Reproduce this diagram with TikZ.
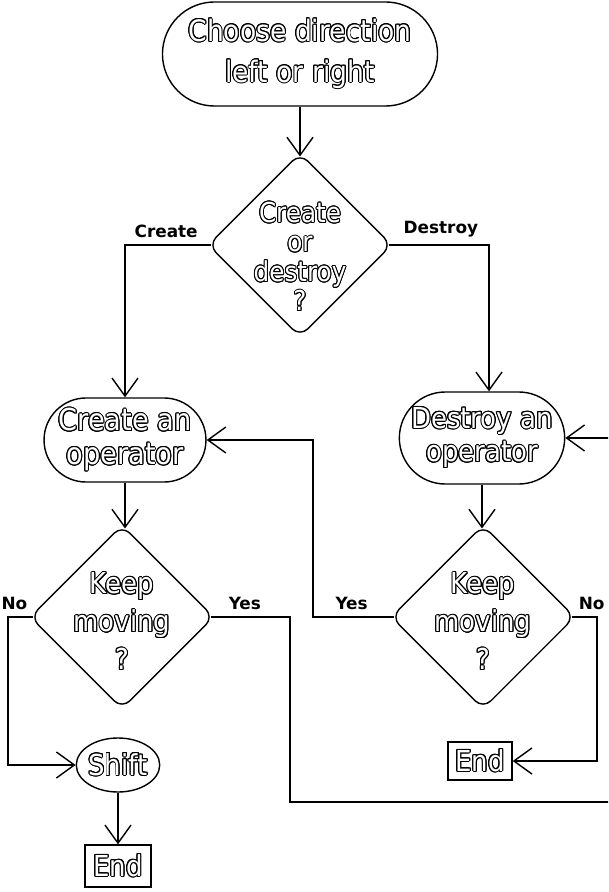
\documentclass[tikz,border=0pt]{standalone}
\usepackage{fontspec}
\setmainfont{DejaVu Sans}
\newfontfamily\nodefont{DejaVu Sans}[FakeStretch=0.9]
\usepackage{contour}
\contourlength{0.7pt}
\usetikzlibrary{arrows.meta,shapes.geometric,shapes.misc}
\newcommand{\hol}[1]{\contour{black}{\textcolor{white}{#1}}}

\begin{document}
\begin{tikzpicture}[x=0.025cm,y=-0.025cm,line width=1pt,
    >={Straight Barb[length=0.45cm,width=0.65cm]},
    txt/.style={font=\nodefont\fontsize{20.5}{27}\selectfont,align=center},
    term/.style={draw,rounded rectangle,inner sep=0pt,txt},
    decision/.style={draw,diamond,rounded corners=8pt,inner sep=0pt,minimum width=4.6cm,minimum height=4.6cm},
    oval/.style={draw,ellipse,inner sep=0pt,txt},
    stop/.style={draw,rectangle,inner sep=0pt,txt},
    lbl/.style={font=\fontsize{12}{14}\selectfont\bfseries,inner sep=2pt,yshift=3pt},
    intodia/.style={shorten >=-3pt},
    fromdia/.style={shorten <=-3pt}]

    \clip (0,0) rectangle (608,892);

    \node[term,minimum width=6.875cm,minimum height=2.6cm,font=\nodefont\fontsize{21}{29}\selectfont] (start) at (300,54) {\hol{Choose direction}\\\hol{left or right}};
    \node[decision,label={[txt,font=\nodefont\fontsize{19.5}{21}\selectfont,yshift=-0.3cm]center:{\hol{Create}\\\hol{or}\\\hol{destroy}\\\hol{?}}}] (dec1) at (300,245) {};
    \node[term,minimum width=3.95cm,minimum height=2.1cm,font=\nodefont\fontsize{21.5}{24}\selectfont] (create) at (125,440) {\hol{Create an}\\\hol{operator}};
    \node[term,minimum width=4.125cm,minimum height=2.3cm,font=\nodefont\fontsize{20.5}{24}\selectfont] (destroy) at (482,438) {\hol{Destroy an}\\\hol{operator}};
    \node[decision,label={[txt,yshift=-0.12cm]center:{\hol{Keep}\\\hol{moving}\\\hol{?}}}] (keepL) at (122,617) {};
    \node[decision,label={[txt,yshift=-0.12cm]center:{\hol{Keep}\\\hol{moving}\\\hol{?}}}] (keepR) at (483,617) {};
    \node[oval,minimum width=2cm,minimum height=1.35cm] (shift) at (118,765) {\hol{Shift}};
    \node[stop,minimum width=1.65cm,minimum height=1.05cm] (endL) at (118,866) {\hol{End}};
    \node[stop,minimum width=1.6cm,minimum height=0.95cm] (endR) at (480,761) {\hol{End}};

    \coordinate (noL) at (8,617);
    \coordinate (yesL) at (290,617);
    \coordinate (loop) at (640,802);
    \coordinate (yesR) at (313,617);
    \coordinate (noR) at (597,617);

    \draw[->,intodia] (start.south) -- (dec1.north);
    \draw[->,fromdia] (dec1.west) -| node[lbl,above,pos=0.25] {Create} (create.north);
    \draw[->,fromdia] (dec1.east) -| node[lbl,above,pos=0.25] {Destroy} ([xshift=0.175cm]destroy.north);
    \draw[->,intodia] (create.south) -- (create.south |- keepL.north);
    \draw[->,intodia] (destroy.south) -- (destroy.south |- keepR.north);
    \draw[->,fromdia] (keepL.west) -- node[lbl,above,pos=0.7] {No} (noL) |- (shift.west);
    \draw[->,fromdia] (keepL.east) -- node[lbl,above,pos=0.4] {Yes} (yesL) |- (loop) |- (destroy.east);
    \draw[->,fromdia] (keepR.west) -- node[lbl,above] {Yes} (yesR) |- (create.east);
    \draw[->,fromdia] (keepR.east) -- node[lbl,above,pos=0.75] {No} (noR) |- (endR.east);
    \draw[->] (shift) -- (endL);
        \end{tikzpicture}
\end{document}
